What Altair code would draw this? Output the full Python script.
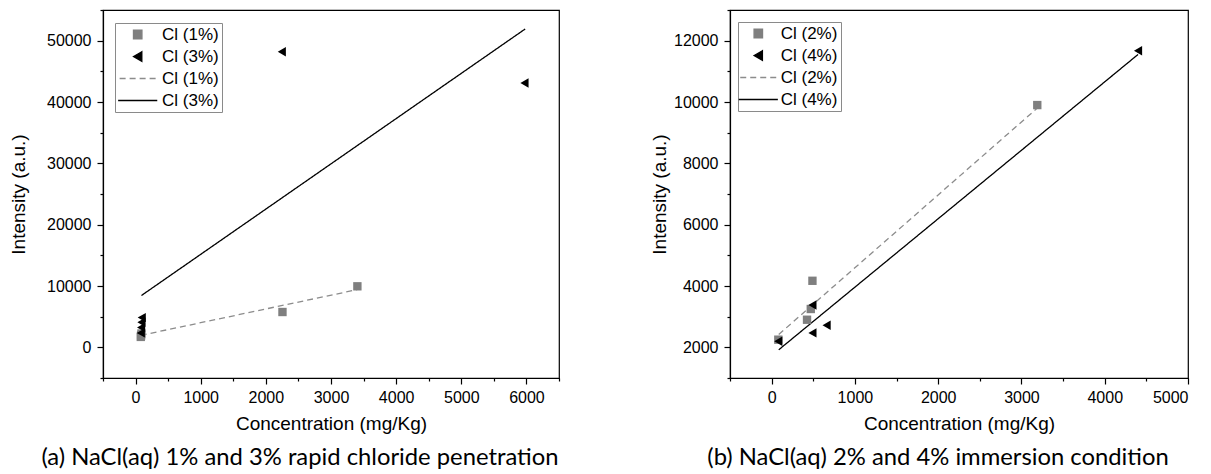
import altair as alt
import pandas as pd

# ---------------- Panel (a): NaCl 1% and 3% rapid chloride penetration
a_keys = ["Cl (1%)", "Cl (3%)", "Cl (1%) fit", "Cl (3%) fit"]
a_cl1_x = [80, 85, 90, 2255, 3405]
a_cl1_y = [1700, 1950, 2250, 5760, 9950]
a_cl3_x = [80, 85, 90, 95, 2245, 5970]
a_cl3_y = [2350, 3250, 4100, 4850, 48200, 43100]
a_fit1_x = [80, 3400]
a_fit1_y = [1950, 9400]
a_fit3_x = [90, 5980]
a_fit3_y = [8450, 51900]
a_x_ticks = [0, 1000, 2000, 3000, 4000, 5000, 6000]
a_x_minor = [-500, 500, 1500, 2500, 3500, 4500, 5500, 6500]
a_y_ticks = [0, 10000, 20000, 30000, 40000, 50000]
a_y_minor = [-5000, 5000, 15000, 25000, 35000, 45000, 55000]
a_caption = "(a) NaCl(aq) 1% and 3% rapid chloride penetration"

# ---------------- Panel (b): NaCl 2% and 4% immersion condition
b_keys = ["Cl (2%)", "Cl (4%)", "Cl (2%) fit", "Cl (4%) fit"]
b_cl2_x = [80, 425, 470, 490, 3190]
b_cl2_y = [2250, 2900, 3250, 4170, 9900]
b_cl4_x = [80, 490, 490, 660, 4400]
b_cl4_y = [2200, 3380, 2470, 2720, 11670]
b_fit2_x = [85, 3190]
b_fit2_y = [2420, 9800]
b_fit4_x = [85, 4400]
b_fit4_y = [1920, 11550]
b_x_ticks = [0, 1000, 2000, 3000, 4000, 5000]
b_x_minor = [-500, 500, 1500, 2500, 3500, 4500]
b_y_ticks = [2000, 4000, 6000, 8000, 10000, 12000]
b_y_minor = [1000, 3000, 5000, 7000, 9000, 11000, 13000]
b_caption = "(b) NaCl(aq) 2% and 4% immersion condition"

AX_FONT = "Liberation Sans"
CAP_FONT = "Lato"
LINE_SYMBOL = "M-3.5,0H3.5"


def frame(xs, ys, key):
    return pd.DataFrame({"x": xs, "y": ys, "key": [key] * len(xs)})


def panel(keys, pts, fits, xdom, ydom, xt, xm, yt, ym, caption, cap_dx,
          title_pad, w, h, leg_x, leg_y, sym_off, lab_off):
    pts_df = pd.concat(pts, ignore_index=True)
    fit_df = pd.concat(fits, ignore_index=True)
    leg = alt.Legend(
        title=None, orient="none", legendX=leg_x, legendY=leg_y, padding=3,
        strokeColor="#8a8a8a", fillColor="white", labelFont=AX_FONT,
        labelFontSize=17, labelColor="black", rowPadding=4,
        labelOffset=lab_off, symbolOffset=sym_off, symbolSize=45,
        symbolStrokeWidth=1.4,
        labelExpr="replace(datum.label, ' fit', '')",
    )
    color = alt.Color("key:N", scale=alt.Scale(
        domain=keys, range=["#7f7f7f", "#000000", "#8c8c8c", "#000000"]),
        legend=leg)
    shape = alt.Shape("key:N", scale=alt.Scale(
        domain=keys,
        range=["square", "triangle-left", LINE_SYMBOL, LINE_SYMBOL]),
        legend=leg)
    size = alt.Size("key:N", scale=alt.Scale(
        domain=keys, range=[70, 125, 70, 70]), legend=None)
    dash = alt.StrokeDash("key:N", scale=alt.Scale(
        domain=keys, range=[[1, 0], [1, 0], [6, 4], [1, 0]]), legend=leg)

    xscale = alt.Scale(domain=xdom, nice=False, zero=False)
    yscale = alt.Scale(domain=ydom, nice=False, zero=False)

    main_x = alt.Axis(values=xt, format="d", tickSize=6, labelPadding=5,
                      grid=False, title="Concentration (mg/Kg)",
                      titlePadding=9, orient="bottom")
    main_y = alt.Axis(values=yt, format="d", tickSize=6, labelPadding=6,
                      grid=False, title="Intensity (a.u.)",
                      titlePadding=title_pad, orient="left")
    minor_x = alt.Axis(values=xm, tickSize=3, labels=False, domain=False,
                       grid=False, title=None, orient="bottom")
    minor_y = alt.Axis(values=ym, tickSize=3, labels=False, domain=False,
                       grid=False, title=None, orient="left")

    points = alt.Chart(pts_df).mark_point(filled=True, opacity=1).encode(
        x=alt.X("x:Q", scale=xscale, axis=main_x),
        y=alt.Y("y:Q", scale=yscale, axis=main_y),
        color=color, shape=shape, size=size,
    )
    lines = alt.Chart(fit_df).mark_line(strokeWidth=1.3).encode(
        x=alt.X("x:Q", scale=xscale, axis=minor_x),
        y=alt.Y("y:Q", scale=yscale, axis=minor_y),
        color=color, strokeDash=dash,
    )
    return alt.layer(lines, points).resolve_axis(
        x="independent", y="independent"
    ).properties(
        width=w, height=h,
        title=alt.TitleParams(caption, orient="bottom", anchor="middle",
                              font=CAP_FONT, fontSize=23.8,
                              fontWeight="normal", color="black",
                              dx=cap_dx, offset=13),
    )


left = panel(
    a_keys,
    [frame(a_cl1_x, a_cl1_y, a_keys[0]), frame(a_cl3_x, a_cl3_y, a_keys[1])],
    [frame(a_fit1_x, a_fit1_y, a_keys[2]), frame(a_fit3_x, a_fit3_y, a_keys[3])],
    [-500, 6500], [-5000, 55000], a_x_ticks, a_x_minor, a_y_ticks, a_y_minor,
    a_caption, -31, 18, 456, 368, 12, 13, 11.2, 15.8,
)
right = panel(
    b_keys,
    [frame(b_cl2_x, b_cl2_y, b_keys[0]), frame(b_cl4_x, b_cl4_y, b_keys[1])],
    [frame(b_fit2_x, b_fit2_y, b_keys[2]), frame(b_fit4_x, b_fit4_y, b_keys[3])],
    [-500, 5000], [1000, 13000], b_x_ticks, b_x_minor, b_y_ticks, b_y_minor,
    b_caption, -21, 4, 458, 368, 8, 12, 8.8, 13.9,
)

chart = alt.hconcat(left, right, spacing=88).resolve_scale(
    color="independent", shape="independent", size="independent",
    strokeDash="independent",
).resolve_legend(
    color="independent", shape="independent", size="independent",
    strokeDash="independent",
).properties(
    padding={"left": 8, "top": 8, "right": 5, "bottom": 5},
    background="white",
).configure_view(
    stroke="black", strokeWidth=1.2,
).configure_axis(
    labelFont=AX_FONT, labelFontSize=16, labelColor="black",
    titleFont=AX_FONT, titleFontSize=19, titleColor="black",
    titleFontWeight="normal", domainColor="black", domainWidth=1.2,
    tickColor="black", tickWidth=1.2,
)

chart.save("out.html", embed_options={"renderer": "svg", "actions": False})
